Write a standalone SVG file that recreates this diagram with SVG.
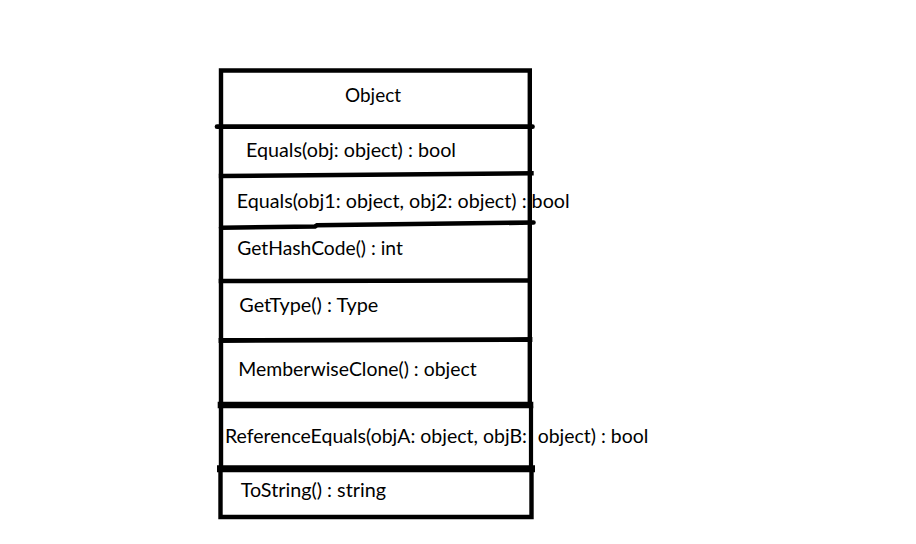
<svg xmlns="http://www.w3.org/2000/svg" width="916" height="544" viewBox="0 0 916 544">
  <style>
    .ln { stroke: #000; fill: none; stroke-linecap: square; }
    .rl { stroke: #000; fill: none; stroke-linecap: round; }
    .t { font-family: Lato, "Open Sans", "Liberation Sans", sans-serif; font-size: 19px; fill: #000; }
  </style>
  <rect x="0" y="0" width="916" height="544" fill="#fff"/>
  <g id="class-Object">
    <g id="frame">
      <path class="ln" stroke-width="4.4" d="M221 70.5 H529.5 M221 70.5 V468 M529.8 70.5 V404"/>
      <path class="ln" stroke-width="4.2" d="M531 408 V466"/>
    </g>
    <g id="header">
      <text class="t" x="345" y="101.5" textLength="56" lengthAdjust="spacingAndGlyphs">Object</text>
    </g>
    <g id="op-equals1">
      <path class="rl" stroke-width="4.7" d="M217 126.7 H532.5"/>
      <text class="t" x="246" y="157.3" textLength="210" lengthAdjust="spacingAndGlyphs">Equals(obj: object) : bool</text>
    </g>
    <g id="op-equals2">
      <path class="ln" stroke-width="4.4" d="M221 176 L531.5 173.3"/>
      <text class="t" x="236.7" y="207.7" textLength="333" lengthAdjust="spacingAndGlyphs">Equals(obj1: object, obj2: object) : bool</text>
    </g>
    <g id="op-gethashcode">
      <path class="rl" stroke-width="4.6" d="M221 227.7 L315 226.5 L317 225.3 L533.5 222.5"/>
      <text class="t" x="237.3" y="255" textLength="165.5" lengthAdjust="spacingAndGlyphs">GetHashCode() : int</text>
    </g>
    <g id="op-gettype">
      <path class="ln" stroke-width="4.6" d="M221 281 L529.5 280.5"/>
      <text class="t" x="239.3" y="312.3" textLength="139" lengthAdjust="spacingAndGlyphs">GetType() : Type</text>
    </g>
    <g id="op-memberwiseclone">
      <path class="ln" stroke-width="4.8" d="M221 340.5 L530 339.5"/>
      <text class="t" x="238.3" y="375.7" textLength="238.4" lengthAdjust="spacingAndGlyphs">MemberwiseClone() : object</text>
    </g>
    <g id="op-referenceequals">
      <path class="ln" stroke-width="6.6" d="M221 405 H530"/>
      <text class="t" x="225" y="443.3" textLength="302" lengthAdjust="spacingAndGlyphs">ReferenceEquals(objA: object, objB:</text>
      <text class="t" x="537.7" y="443.3" textLength="110.6" lengthAdjust="spacingAndGlyphs">object) : bool</text>
    </g>
    <g id="op-tostring">
      <path class="ln" stroke-width="7" d="M220.5 468.7 H531.5"/>
      <path class="ln" stroke-width="4.4" d="M220.5 468.7 V517 H531.5 V468.7"/>
      <text class="t" x="240.7" y="496.7" textLength="145.3" lengthAdjust="spacingAndGlyphs">ToString() : string</text>
    </g>
  </g>
  <g id="connectors"/>
</svg>
